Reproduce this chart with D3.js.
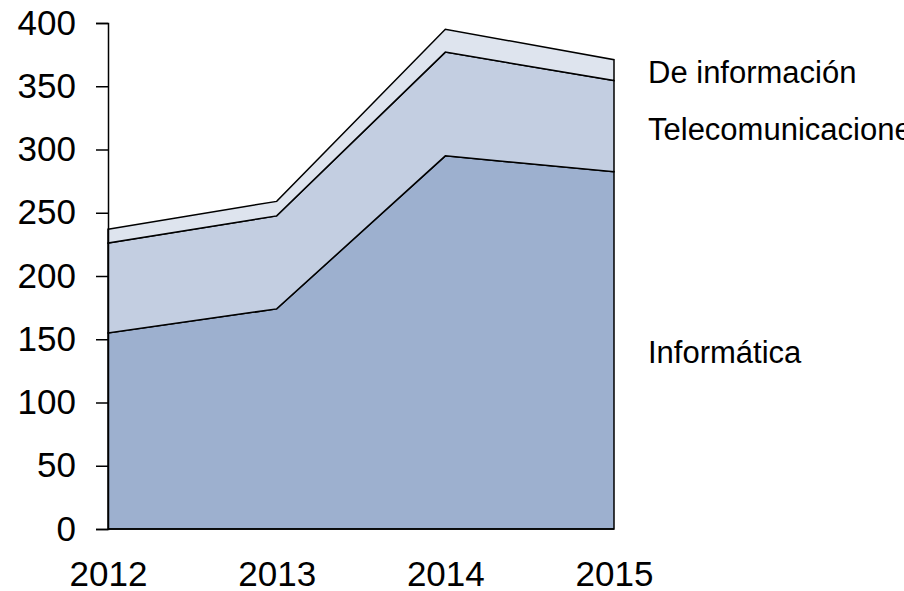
<!DOCTYPE html>
<html><head><meta charset="utf-8">
<script src="https://cdn.jsdelivr.net/npm/d3@7"></script>
<style>body{margin:0;background:#fff}svg{display:block;font-family:"Liberation Sans",Arial,sans-serif}</style>
</head><body><svg id="c" width="904" height="591"></svg>
<script>
const years = ["2012","2013","2014","2015"];
const informatica = [155, 174, 295, 282.5];
const telecom = [71, 73.5, 82, 72];
const deInformacion = [11, 11.5, 18, 16.5];
const seriesNames = ["Informática","Telecomunicaciones","De información"];
const seriesColors = ["#9DB0CF","#C3CEE1","#DEE4EE"];
const yTicks = [0,50,100,150,200,250,300,350,400];

const svg = d3.select("#c");
const m = {left:108, right:290, top:23, bottom:62};
const W = 904, H = 591;
const x = d3.scalePoint().domain(years).range([m.left, W-m.right]);
const y = d3.scaleLinear().domain([0,400]).range([H-m.bottom, m.top]);

const rows = years.map((yr,i)=>({year:yr, "Informática":informatica[i], "Telecomunicaciones":telecom[i], "De información":deInformacion[i]}));
const stack = d3.stack().keys(seriesNames)(rows);
const area = d3.area().x(d=>x(d.data.year)).y0(d=>y(d[0])).y1(d=>y(d[1]));

svg.append("g").selectAll("path").data(stack).join("path")
  .attr("d", area).attr("fill",(d,i)=>seriesColors[i])
  .attr("stroke","#000").attr("stroke-width",1.5).attr("stroke-linejoin","miter");

// x axis baseline
svg.append("line").attr("x1",x(years[0])).attr("x2",x(years[3]))
  .attr("y1",y(0)).attr("y2",y(0)).attr("stroke","#000").attr("stroke-width",1.5);

const yAxis = d3.axisLeft(y).tickValues(yTicks).tickSize(12).tickPadding(20);
const gy = svg.append("g").attr("transform",`translate(${m.left},0)`).call(yAxis);
gy.select(".domain").attr("stroke","#000").attr("stroke-width",1.5);
gy.selectAll(".tick line").attr("stroke","#000").attr("stroke-width",1.5);
gy.selectAll("text").attr("font-size",35).attr("font-family","Liberation Sans, Arial, sans-serif").attr("fill","#000");

const xAxis = d3.axisBottom(x).tickSize(0).tickPadding(0);
const gx = svg.append("g").attr("transform",`translate(0,${y(0)})`).call(xAxis);
gx.select(".domain").remove();
gx.selectAll("text").attr("font-size",35).attr("font-family","Liberation Sans, Arial, sans-serif")
  .attr("fill","#000").attr("dy",null).attr("y",57);

// series labels
const labelY = [363, 140, 83];
svg.append("g").selectAll("text").data(seriesNames).join("text")
  .attr("x",648).attr("y",(d,i)=>labelY[i]).attr("font-size",31).attr("fill","#000").text(d=>d);
</script></body></html>
